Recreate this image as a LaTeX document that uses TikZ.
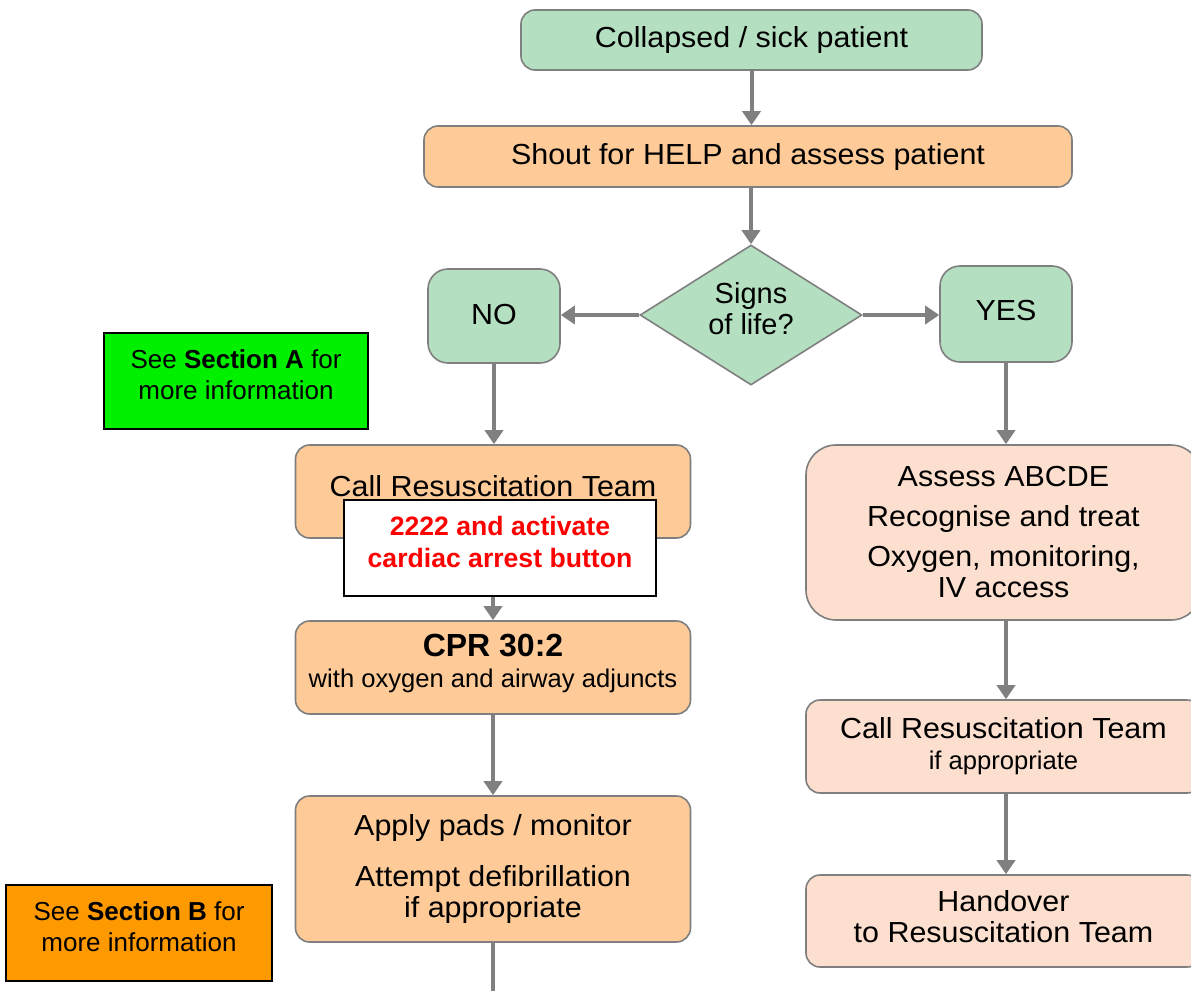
\documentclass[tikz,border=0pt]{standalone}
\usepackage{fontspec}
\setmainfont{Liberation Sans}
\newfontfamily\widefont[FakeStretch=1.05]{Liberation Sans}
\usepackage{xcolor}
\usepackage{tikz}
\usetikzlibrary{arrows.meta}
\usetikzlibrary{shapes,shapes.geometric}
\usetikzlibrary{calc,positioning}
\definecolor{boxgreen}{HTML}{B4DFC1}
\definecolor{boxorange}{HTML}{FDCA98}
\definecolor{boxpink}{HTML}{FDDFCF}
\definecolor{boxline}{HTML}{7F7F7F}
\definecolor{arrowgray}{HTML}{808080}
\definecolor{notegreen}{HTML}{00F000}
\definecolor{noteorange}{HTML}{FF9900}
\definecolor{alarmred}{HTML}{FF0000}
\newcommand{\mainsize}{\fontsize{14.5}{15.5}\selectfont}
\newcommand{\subsize}{\rmfamily\fontsize{12.8}{15.5}\selectfont}
\tikzset{
  stepnode/.style={draw=boxline, line width=0.8pt, rounded corners=7pt, align=center, text centered, inner sep=2pt, font=\widefont\mainsize},
  greenbox/.style={stepnode, fill=boxgreen},
  orangebox/.style={stepnode, fill=boxorange},
  pinkbox/.style={stepnode, fill=boxpink},
  decision/.style={diamond, draw=boxline, line width=0.8pt, fill=boxgreen, aspect=1.6, inner sep=0pt, align=center, font=\mainsize},
  notebox/.style={draw=black, line width=1pt, align=center, font=\fontsize{13}{15.5}\selectfont},
  callout/.style={draw=black, line width=1pt, fill=white, align=center, text=alarmred, font=\fontsize{13.3}{16}\selectfont\bfseries},
  flowarrow/.style={draw=arrowgray, line width=2pt, -{Triangle[width=9pt,length=7pt]}},
  connector/.style={draw=arrowgray, line width=2pt}
}

\begin{document}
\begin{tikzpicture}[x=0.5pt, y=-0.5pt]
  \useasboundingbox (0,0) rectangle (1191,991);
  % main column
  \node[greenbox, minimum width=230.5pt, minimum height=30pt] (collapsed) at (751.5,40) {Collapsed / sick patient};
  \node[orangebox, minimum width=324pt, minimum height=30.5pt] (shout) at (748,156.5) {Shout for HELP and assess patient};
  \node[decision, minimum width=111pt, minimum height=70pt, text depth=7pt] (signs) at (751,315) {Signs\\of life?};
  \node[greenbox, rounded corners=10pt, minimum width=66pt, minimum height=47pt, text depth=2pt] (no) at (494,316) {NO};
  \node[greenbox, rounded corners=10pt, minimum width=66pt, minimum height=48pt, text depth=4pt] (yes) at (1006,314) {YES};
  % notes
  \node[notebox, fill=notegreen, minimum width=132pt, minimum height=48pt, text depth=6.7pt] (secA) at (236,381) {See \textbf{Section A} for\\more information};
  \node[notebox, fill=noteorange, minimum width=133pt, minimum height=48pt, text depth=6.7pt] (secB) at (139,933) {See \textbf{Section B} for\\more information};
  % no branch
  \node[orangebox, minimum width=197.5pt, minimum height=46.5pt, text depth=5.5pt] (callteam) at (493,491.5) {Call Resuscitation Team};
  \node[orangebox, minimum width=197.5pt, minimum height=46.5pt, text depth=6.7pt] (cpr) at (493,667.5) {{\rmfamily\fontsize{16}{15.5}\selectfont\bfseries CPR 30:2}\\{\subsize with oxygen and airway adjuncts}};
  \node[orangebox, minimum width=197.5pt, minimum height=73pt] (pads) at (493,869) {Apply pads / monitor\\[10pt]Attempt defibrillation\\if appropriate};
  \coordinate (pageend) at (493,991);
  % yes branch
  \node[pinkbox, rounded corners=15pt, minimum width=197.5pt, minimum height=87.5pt] (abcde) at (1003.5,532.5) {Assess ABCDE\\[4.5pt]Recognise and treat\\[4.5pt]Oxygen, monitoring,\\IV access};
  \node[pinkbox, minimum width=197.5pt, minimum height=46.5pt] (callright) at (1003.5,746.5) {Call Resuscitation Team\\{\subsize if appropriate}};
  \node[pinkbox, minimum width=197.5pt, minimum height=46pt, text depth=5pt] (handover) at (1003.5,921) {Handover\\to Resuscitation Team};
  % arrows
  \draw[flowarrow] (collapsed.south) -- (collapsed.south |- shout.north);
  \draw[flowarrow] (signs.north |- shout.south) -- (signs.north);
  \draw[flowarrow] (signs.west) -- (signs.west -| no.east);
  \draw[flowarrow] (signs.east) -- (signs.east -| yes.west);
  \draw[flowarrow] (no.south) -- (no.south |- callteam.north);
  \draw[flowarrow] (callteam) -- (cpr);
  \draw[flowarrow] (cpr) -- (pads);
  \draw[connector] (pads) -- (pageend);
  \draw[flowarrow] (yes.south) -- (yes.south |- abcde.north);
  \draw[flowarrow] (yes.south |- abcde.south) -- (yes.south |- callright.north);
  \draw[flowarrow] (yes.south |- callright.south) -- (yes.south |- handover.north);
  % phone note over the team box
  \node[callout, minimum width=156pt, minimum height=48pt, text depth=6pt] (code) at (500,548) {2222 and activate\\cardiac arrest button};
\end{tikzpicture}
\end{document}
